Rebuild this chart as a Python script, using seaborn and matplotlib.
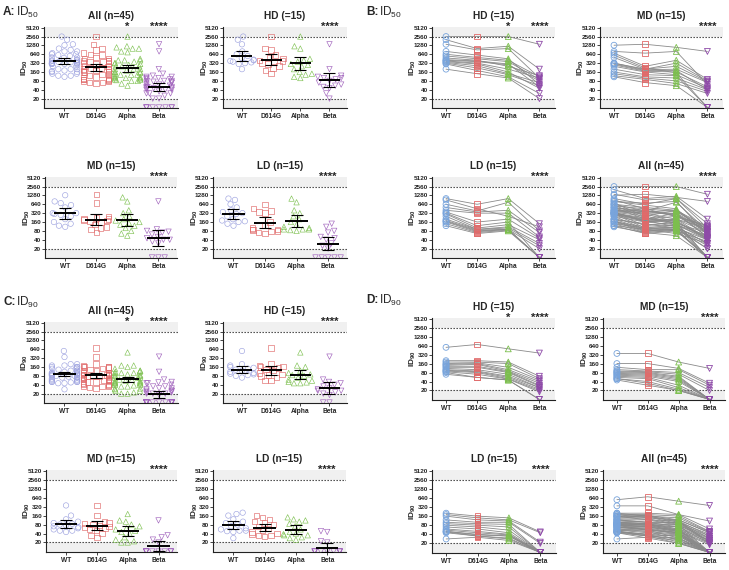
import numpy as np
import pandas as pd
import matplotlib
matplotlib.use('Agg')
import matplotlib.pyplot as plt
from matplotlib.ticker import NullLocator
import seaborn as sns

variants = ['WT', 'D614G', 'Alpha', 'Beta']
y_ticks = [20, 40, 80, 160, 320, 640, 1280, 2560, 5120]

# --- neutralising titres, one entry per donor (same donor order in every list) ---
# values of 10 = below the limit of detection (plotted on the axis floor)
id50_hd_wt = [2560, 2000, 1400, 800, 640, 560, 480, 420, 400, 380, 360, 340, 320, 300, 200]
id50_hd_d614g = [2560, 1000, 900, 600, 500, 450, 400, 380, 360, 320, 300, 260, 220, 180, 140]
id50_hd_alpha = [2560, 1200, 1000, 450, 400, 360, 250, 300, 280, 200, 160, 140, 130, 110, 100]
id50_hd_beta = [1400, 200, 100, 60, 110, 90, 120, 50, 80, 100, 45, 70, 55, 30, 20]

id50_md_wt = [1300, 800, 700, 600, 500, 320, 320, 300, 280, 250, 200, 160, 140, 120, 110]
id50_md_d614g = [1400, 700, 250, 220, 200, 200, 190, 180, 170, 160, 130, 110, 100, 90, 70]
id50_md_alpha = [1100, 800, 400, 150, 320, 250, 200, 180, 160, 130, 120, 100, 80, 65, 55]
id50_md_beta = [800, 60, 90, 10, 80, 75, 70, 40, 50, 45, 10, 40, 35, 30, 10]

id50_ld_wt = [1000, 900, 640, 500, 400, 350, 320, 300, 250, 200, 180, 170, 160, 140, 120]
id50_ld_d614g = [640, 450, 380, 350, 320, 160, 120, 100, 90, 90, 85, 80, 75, 70, 65]
id50_ld_alpha = [1000, 250, 750, 400, 320, 200, 160, 130, 110, 100, 90, 90, 90, 85, 80]
id50_ld_beta = [140, 110, 80, 70, 50, 45, 10, 40, 30, 25, 10, 20, 10, 10, 10]

id90_hd_wt = [560, 200, 180, 160, 150, 140, 130, 120, 110, 100, 95, 90, 85, 80, 70]
id90_hd_d614g = [700, 200, 180, 170, 160, 150, 130, 120, 100, 90, 85, 80, 70, 55, 55]
id90_hd_alpha = [500, 180, 160, 120, 100, 90, 85, 80, 70, 60, 55, 50, 48, 45, 45]
id90_hd_beta = [360, 60, 50, 45, 40, 35, 30, 28, 25, 25, 22, 20, 18, 10, 10]

id90_md_wt = [350, 160, 120, 100, 90, 85, 80, 75, 70, 65, 60, 55, 50, 50, 45]
id90_md_d614g = [350, 160, 100, 90, 85, 80, 75, 70, 65, 60, 55, 50, 40, 35, 30]
id90_md_alpha = [180, 110, 100, 80, 70, 60, 55, 50, 45, 40, 30, 25, 22, 20, 20]
id90_md_beta = [110, 35, 30, 25, 20, 10, 10, 10, 10, 10, 10, 10, 10, 10, 10]

id90_ld_wt = [200, 180, 160, 120, 100, 90, 80, 70, 60, 55, 50, 50, 48, 45, 28]
id90_ld_d614g = [160, 140, 120, 100, 90, 80, 70, 60, 50, 45, 40, 38, 35, 35, 32]
id90_ld_alpha = [140, 120, 110, 100, 85, 70, 55, 45, 40, 38, 35, 35, 30, 28, 25]
id90_ld_beta = [48, 45, 22, 20, 10, 10, 10, 10, 10, 10, 10, 10, 10, 10, 10]

dot_colors = ['#9fa4e0', '#e06a6a', '#80c254', '#a062bc']
pair_colors = ['#78a4dc', '#e06a6a', '#7cbf4e', '#8e4aa8']
markers = ['o', 's', '^', 'v']
YMIN, YMAX = 9.6, 5400
BAND = '#f0f0f0'

sns.set_style('ticks')
plt.rcParams['font.family'] = ['Liberation Sans', 'DejaVu Sans']
plt.rcParams['mathtext.fontset'] = 'custom'
plt.rcParams['mathtext.rm'] = 'Liberation Sans'
plt.rcParams['mathtext.bf'] = 'Liberation Sans:bold'


def make_frame(groups):
    rows = []
    offset = 0
    for lists in groups:
        for pos, (v, vals) in enumerate(zip(variants, lists)):
            for subj, val in enumerate(vals):
                rows.append((offset + subj, v, pos, val))
        offset += len(lists[0])
    return pd.DataFrame(rows, columns=['subject', 'variant', 'pos', 'value'])


hd50 = [id50_hd_wt, id50_hd_d614g, id50_hd_alpha, id50_hd_beta]
md50 = [id50_md_wt, id50_md_d614g, id50_md_alpha, id50_md_beta]
ld50 = [id50_ld_wt, id50_ld_d614g, id50_ld_alpha, id50_ld_beta]
hd90 = [id90_hd_wt, id90_hd_d614g, id90_hd_alpha, id90_hd_beta]
md90 = [id90_md_wt, id90_md_d614g, id90_md_alpha, id90_md_beta]
ld90 = [id90_ld_wt, id90_ld_d614g, id90_ld_alpha, id90_ld_beta]

W, H = 729, 570
fig = plt.figure(figsize=(W / 100, H / 100), dpi=100)


def add_ax(l, t, r, b):
    ax = fig.add_axes([l / W, 1 - b / H, (r - l) / W, (b - t) / H])
    ax.width_px = r - l
    return ax


def base_axis(ax, xlim):
    ax.set_yscale('log', base=2)
    ax.set_ylim(YMIN, YMAX)
    ax.set_xlim(*xlim)
    ax.axhspan(2560, YMAX, color=BAND, lw=0, zorder=0)
    ax.axhspan(YMIN, 20, color=BAND, lw=0, zorder=0)


def finish_axis(ax, title, measure, stars):
    ax.axhline(2560, ls=(0, (1.2, 1.5)), color='#333333', lw=0.8, zorder=1)
    ax.axhline(20, ls=(0, (1.2, 1.5)), color='#333333', lw=0.8, zorder=1)
    ax.set_yticks(y_ticks)
    ax.set_yticklabels([str(t) for t in y_ticks], fontsize=4.6, fontweight='bold')
    ax.yaxis.set_minor_locator(NullLocator())
    ax.set_xticks(range(4))
    ax.set_xticklabels(variants, fontsize=4.8, fontweight='bold')
    ax.tick_params(axis='y', length=2, width=0.6, pad=0.8)
    ax.tick_params(axis='x', length=2, width=0.6, pad=1.5)
    for s in ['top', 'right']:
        ax.spines[s].set_visible(False)
    for s in ['left', 'bottom']:
        ax.spines[s].set_linewidth(0.8)
        ax.spines[s].set_color('#222222')
    ax.set_title(title, fontsize=7.3, fontweight='bold', pad=6)
    ax.set_xlabel('')
    ax.set_ylabel('ID$_{\\mathbf{%s}}$' % measure, fontsize=6, fontweight='bold')
    ax.yaxis.set_label_coords(-13.5 / ax.width_px, 0.5)
    for v, s in stars.items():
        ax.annotate(s, xy=(variants.index(v), 1), xycoords=('data', 'axes fraction'),
                    xytext=(0, -2), textcoords='offset points', ha='center',
                    va='baseline', fontsize=8, fontweight='bold', annotation_clip=False)


def dot_panel(box, groups, title, measure, stars):
    ax = add_ax(*box)
    base_axis(ax, (-0.65, 3.6))
    df = make_frame(groups)
    for i, v in enumerate(variants):
        sub = df[df['variant'] == v]
        sns.swarmplot(data=sub, x='variant', y='value', order=variants, marker=markers[i],
                      color=dot_colors[i], size=3.9, ax=ax, warn_thresh=1,
                      facecolor='none', edgecolor=dot_colors[i], linewidth=0.45)
        coll = ax.collections[-1]
        coll.set_facecolor('none')
        coll.set_edgecolor(dot_colors[i])
        coll.set_linewidth(0.45)
        coll.set_zorder(3)
        # geometric mean with 95% CI
        logs = np.log2(sub['value'].to_numpy())
        gm = 2 ** logs.mean()
        half = (2.145 if len(logs) < 30 else 2.015) * logs.std(ddof=1) / np.sqrt(len(logs))
        lo, hi = 2 ** (logs.mean() - half), 2 ** (logs.mean() + half)
        ax.hlines(gm, i - 0.36, i + 0.36, color='black', lw=1.4, zorder=4)
        ax.errorbar(i, gm, yerr=[[gm - lo], [hi - gm]], fmt='none', ecolor='black',
                    elinewidth=0.8, capsize=4, capthick=0.8, zorder=4)
    ax.set_xlim(-0.65, 3.6)
    finish_axis(ax, title, measure, stars)


def paired_panel(box, groups, title, measure, stars):
    ax = add_ax(*box)
    base_axis(ax, (-0.45, 3.5))
    df = make_frame(groups)
    sns.lineplot(data=df, x='pos', y='value', units='subject', estimator=None,
                 color='#8a8a8a', lw=0.6, ax=ax, legend=False, zorder=2)
    for i, v in enumerate(variants):
        sub = df[df['variant'] == v]
        sns.scatterplot(data=sub, x='pos', y='value', marker=markers[i], s=18,
                        color=pair_colors[i], ax=ax, legend=False, zorder=3)
        coll = ax.collections[-1]
        coll.set_facecolor('none')
        coll.set_edgecolor(pair_colors[i])
        coll.set_linewidth(0.6)
    ax.set_xlim(-0.45, 3.5)
    finish_axis(ax, title, measure, stars)


beta4 = {'Beta': '****'}
alpha_beta = {'Alpha': '*', 'Beta': '****'}

# A: ID50 dot plots
dot_panel((44, 27, 178, 108), [hd50, md50, ld50], 'All (n=45)', '50', alpha_beta)
dot_panel((223, 27, 347, 108), [hd50], 'HD (=15)', '50', beta4)
dot_panel((45, 177, 177, 258), [md50], 'MD (n=15)', '50', beta4)
dot_panel((213, 177, 347, 258), [ld50], 'LD (n=15)', '50', beta4)

# B: ID50 paired
paired_panel((432, 27, 555, 108), [hd50], 'HD (=15)', '50', alpha_beta)
paired_panel((600, 27, 723, 108), [md50], 'MD (n=15)', '50', beta4)
paired_panel((432, 177, 555, 258), [ld50], 'LD (n=15)', '50', beta4)
paired_panel((600, 177, 723, 258), [hd50, md50, ld50], 'All (n=45)', '50', beta4)

# C: ID90 dot plots
dot_panel((44, 322, 178, 403), [hd90, md90, ld90], 'All (n=45)', '90', alpha_beta)
dot_panel((223, 322, 347, 403), [hd90], 'HD (=15)', '90', beta4)
dot_panel((46, 470, 177, 552), [md90], 'MD (n=15)', '90', beta4)
dot_panel((213, 470, 346, 552), [ld90], 'LD (n=15)', '90', beta4)

# D: ID90 paired
paired_panel((432, 318, 555, 400), [hd90], 'HD (=15)', '90', alpha_beta)
paired_panel((603, 318, 725, 400), [md90], 'MD (n=15)', '90', beta4)
paired_panel((432, 470, 556, 553), [ld90], 'LD (n=15)', '90', beta4)
paired_panel((603, 470, 725, 553), [hd90, md90, ld90], 'All (n=45)', '90', beta4)

# panel letters
for x, y, letter, m in [(3, 12, 'A', '50'), (366, 12, 'B', '50'),
                        (3, 302, 'C', '90'), (366, 300, 'D', '90')]:
    fig.text(x / W, 1 - y / H, letter + ':', fontsize=8.5, fontweight='bold',
             va='center', ha='left')
    fig.text((x + 13) / W, 1 - y / H, 'ID$_{%s}$' % m, fontsize=8.5,
             va='center', ha='left')

fig.savefig('out.png', dpi=100, facecolor='white')
